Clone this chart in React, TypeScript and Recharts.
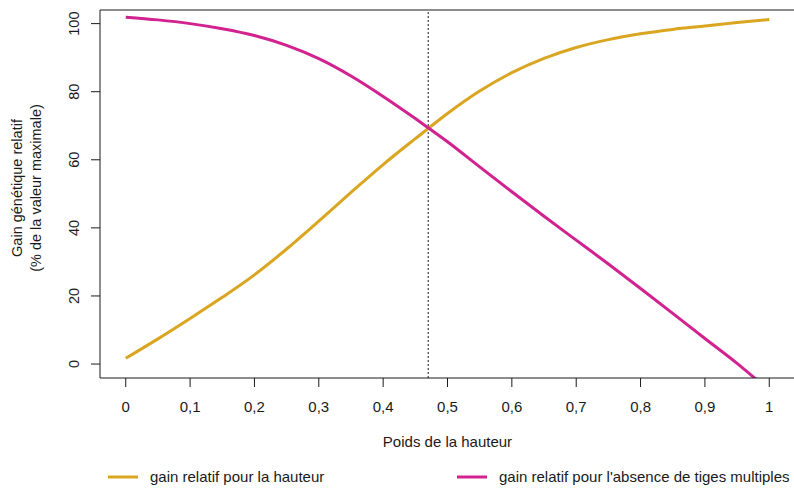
import React from 'react';
import { LineChart, Line, XAxis, YAxis, ReferenceLine, Legend } from 'recharts';

const poids = [0, 0.05, 0.1, 0.15, 0.2, 0.25, 0.3, 0.35, 0.4, 0.45, 0.47, 0.5, 0.55, 0.6, 0.65, 0.7, 0.75, 0.8, 0.85, 0.9, 0.95, 1];
const gainHauteur = [1.7, 7.4, 13.4, 19.6, 26.2, 33.8, 42.0, 50.4, 58.6, 66.2, 69.2, 73.6, 80.2, 85.6, 89.8, 93.0, 95.3, 97.0, 98.3, 99.3, 100.3, 101.2];
const gainTiges = [101.9, 101.1, 100.0, 98.5, 96.5, 93.6, 89.7, 84.6, 78.6, 72.1, 69.4, 65.3, 57.9, 50.6, 43.4, 36.4, 29.4, 22.2, 14.9, 7.5, 0.2, -7.8];
const xTicks = [0, 0.1, 0.2, 0.3, 0.4, 0.5, 0.6, 0.7, 0.8, 0.9, 1];
const yTicks = [0, 20, 40, 60, 80, 100];
const seriesNames = ['gain relatif pour la hauteur', "gain relatif pour l'absence de tiges multiples"];
const xTitle = 'Poids de la hauteur';
const yTitle1 = 'Gain génétique relatif';
const yTitle2 = '(% de la valeur maximale)';
const optimum = 0.47;

const data = poids.map((p, i) => ({ x: p, h: gainHauteur[i], t: gainTiges[i] }));

const FONT = '"Liberation Sans", Arial, sans-serif';
const FS = 15;
const FS_Y = 14.5;
const INK = '#1a1a1a';
const ORANGE = '#DAA520';
const MAGENTA = '#D1228F';

const XTick = (props: any) => {
  const { x, payload } = props;
  const label = String(payload.value).replace('.', ',');
  return (
    <text x={x} y={411.5} textAnchor="middle" fontFamily={FONT} fontSize={FS} fill={INK}>
      {label}
    </text>
  );
};

const YTick = (props: any) => {
  const { y, payload } = props;
  return (
    <text x={79.5} y={y} transform={`rotate(-90, 79.5, ${y})`} textAnchor="middle" fontFamily={FONT} fontSize={FS_Y} fill={INK}>
      {payload.value}
    </text>
  );
};

const XTitle = () => (
  <text x={447.5} y={447} textAnchor="middle" fontFamily={FONT} fontSize={FS} fill={INK}>
    {xTitle}
  </text>
);

const YTitle = () => (
  <g>
    <text x={21.5} y={188} transform="rotate(-90, 21.5, 188)" textAnchor="middle" fontFamily={FONT} fontSize={FS_Y} fill={INK}>
      {yTitle1}
    </text>
    <text x={41} y={188} transform="rotate(-90, 41, 188)" textAnchor="middle" fontFamily={FONT} fontSize={FS_Y} fill={INK}>
      {yTitle2}
    </text>
  </g>
);

const seriesOrder = ['h', 't'];

const LegendContent = (props: any) => {
  const payload = [...(props.payload || [])].sort(
    (a: any, b: any) => seriesOrder.indexOf(a.dataKey) - seriesOrder.indexOf(b.dataKey)
  );
  const lineStarts = [108, 457];
  return (
    <svg width={794} height={30} style={{ display: 'block' }}>
      {payload.map((entry: any, i: number) => (
        <g key={i}>
          <line x1={lineStarts[i]} x2={lineStarts[i] + 30} y1={15} y2={15} stroke={entry.color} strokeWidth={3} />
          <text x={lineStarts[i] + 42} y={20} fontFamily={FONT} fontSize={FS} fill={INK}>
            {entry.value}
          </text>
        </g>
      ))}
    </svg>
  );
};

export default function App() {
  return (
    <div style={{ position: 'absolute', left: 0, top: 0, width: 794, height: 489, overflow: 'hidden', background: '#fff' }}>
      <LineChart width={830} height={489} data={data} margin={{ top: 10, right: 35, bottom: 0, left: 0 }}>
        <XAxis
          dataKey="x"
          type="number"
          domain={[-0.04, 1.04]}
          ticks={xTicks}
          height={81}
          tickSize={9}
          stroke={INK}
          axisLine={{ stroke: INK }}
          tickLine={{ stroke: INK }}
          tick={<XTick />}
          interval={0}
          allowDataOverflow
          label={<XTitle />}
        />
        <YAxis
          type="number"
          domain={[-4.1, 104]}
          ticks={yTicks}
          width={100}
          tickSize={9}
          stroke={INK}
          axisLine={{ stroke: INK }}
          tickLine={{ stroke: INK }}
          tick={<YTick />}
          interval={0}
          allowDataOverflow
          label={<YTitle />}
        />
        <ReferenceLine y={104} stroke={INK} strokeWidth={1} ifOverflow="visible" />
        <ReferenceLine x={optimum} stroke={INK} strokeWidth={1} strokeDasharray="2 2" ifOverflow="visible" />
        <Line dataKey="h" name={seriesNames[0]} stroke={ORANGE} strokeWidth={3} dot={false} type="monotone" isAnimationActive={false} />
        <Line dataKey="t" name={seriesNames[1]} stroke={MAGENTA} strokeWidth={3} dot={false} type="monotone" isAnimationActive={false} />
        <Legend content={<LegendContent />} wrapperStyle={{ position: 'absolute', left: 0, top: 462, width: 794, height: 30 }} />
      </LineChart>
    </div>
  );
}
